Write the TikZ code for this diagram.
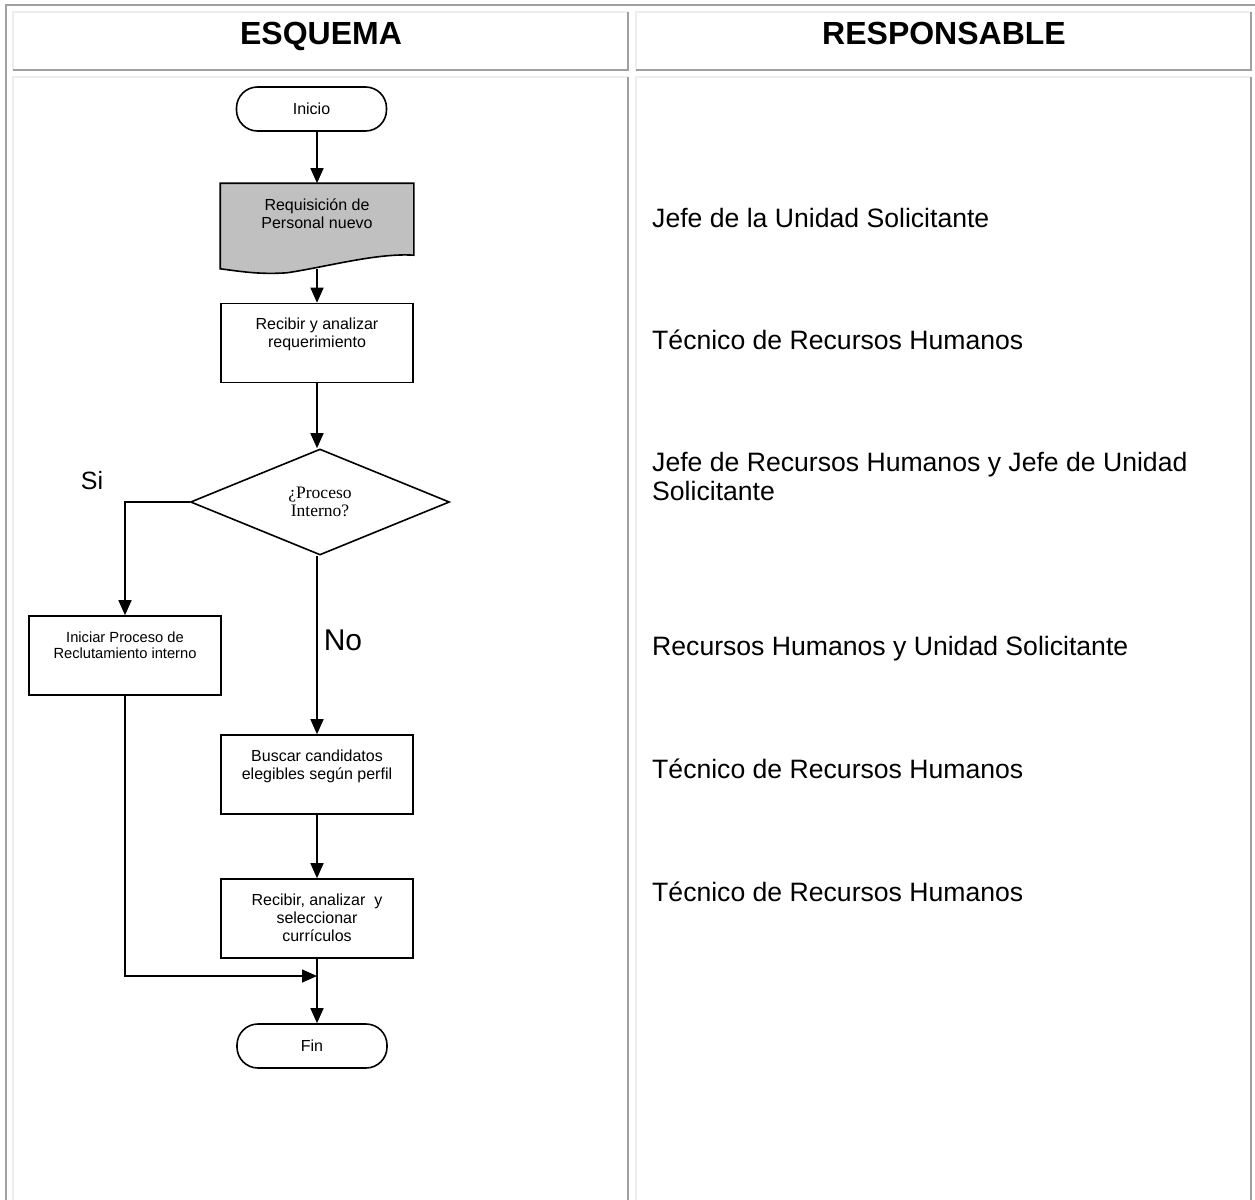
\documentclass[tikz,border=0pt]{standalone}
\usepackage{fontspec}
\setmainfont{Liberation Sans}
\newfontfamily\timesfont{Liberation Serif}
\usetikzlibrary{arrows.meta,shapes.geometric,calc}
\definecolor{rimdark}{HTML}{A0A0A0}
\definecolor{rimlight}{HTML}{EDEDED}
\definecolor{docgray}{HTML}{C0C0C0}
\begin{document}
\begin{tikzpicture}[x=1pt,y=-1pt,
  flow/.style={line width=1.6pt, draw=black},
  arr/.style={flow, -{Triangle[length=15pt,width=13pt]}},
  procbox/.style={draw=black, line width=1.6pt, rectangle, minimum width=192pt, minimum height=79pt, inner sep=0pt},
  termbox/.style={draw=black, line width=1.6pt, rectangle, rounded corners=21pt, minimum width=150pt, minimum height=44pt, inner sep=0pt, font=\fontsize{16}{18}\selectfont},
  boxtext/.style={align=center, font=\fontsize{16}{18}\selectfont, inner sep=0pt},
  resp/.style={anchor=base west, font=\fontsize{26.6}{29}\selectfont, inner sep=0pt},
  head/.style={anchor=base, font=\fontsize{32}{36}\selectfont\bfseries, inner sep=0pt},
  answer/.style={inner sep=0pt}
]
\useasboundingbox (0,0) rectangle (1255,1199);
\fill[white] (0,0) rectangle (1255,1199);

% outer table frame
\draw[rimdark, line width=2pt] (6,1205) -- (6,5) -- (1255,5);

% table cells: light top/left rim, dark bottom/right rim
\foreach \xa/\ya/\xb/\yb in {13/12/628/70, 636/12/1251/70, 13/77/628/1205, 636/77/1251/1205}{
  \draw[rimlight, line width=2pt] (\xa,\yb) -- (\xa,\ya) -- (\xb,\ya);
  \draw[rimdark, line width=2pt] (\xb,\ya) -- (\xb,\yb) -- (\xa,\yb);
}

% column headings
\node[head] (h1) at (321,44.5) {ESQUEMA};
\node[head] (h2) at (944,44.5) {RESPONSABLE};

% flowchart
\node[termbox] (inicio) at (311.5,109) {Inicio};

\node[procbox, draw=none, minimum height=84pt] (req) at (317,226) {};
\draw[flow, fill=docgray] (req.north west) -- (req.north east) -- ($(req.north east)+(0,72)$)
  .. controls ($(req.south)+(60,-16)$) and ($(req.south)+(10,-2)$) .. ($(req.south)+(-30,4)$)
  .. controls ($(req.south)+(-60,6)$) and ($(req.south)+(-80,2)$) .. (req.south west) -- cycle;
\node[boxtext] (reqtext) at (317,214) {Requisición de\\Personal nuevo};

\node[procbox] (analiza) at (317,343) {};
\node[boxtext] (analizatext) at (317,334) {Recibir y analizar\\requerimiento};

\node[diamond, draw=black, line width=1.6pt, minimum width=259pt, minimum height=106pt, inner sep=0pt,
      align=center, font=\timesfont\fontsize{17.5}{18.5}\selectfont] (decide) at (320,502) {¿Proceso\\Interno?};

\node[procbox] (interno) at (125,655.5) {};
\node[boxtext, font=\fontsize{14.7}{16}\selectfont] (internotext) at (125,645) {Iniciar Proceso de\\Reclutamiento interno};

\node[procbox] (busca) at (317,774.5) {};
\node[boxtext] (buscatext) at (317,766) {Buscar candidatos\\elegibles según perfil};

\node[procbox] (selecc) at (317,918.5) {};
\node[boxtext] (selecctext) at (317,918) {Recibir, analizar\ \ y\\seleccionar\\currículos};

\node[termbox] (fin) at (312,1046) {Fin};

\coordinate (merge) at (317,976);

\node[answer, font=\fontsize{25}{28}\selectfont] (si) at (92,481) {Si};
\node[answer, font=\fontsize{30}{34}\selectfont] (no) at (343,640) {No};

% connectors
\draw[arr] (inicio.south -| req.north) -- (req.north);
\draw[arr] (req.south) -- (analiza.north);
\draw[arr] (analiza.south) -- (analiza.south |- decide.north);
\draw[arr] (decide.west) -| (interno.north);
\draw[arr] (decide.south -| busca.north) -- (busca.north);
\draw[arr] (busca.south) -- (selecc.north);
\draw[arr] (interno.south) |- (merge);
\draw[arr] (selecc.south) -- (fin.north -| selecc.south);

% responsible parties
\node[resp] (r1) at (652,227) {Jefe de la Unidad Solicitante};
\node[resp] (r2) at (652,349) {Técnico de Recursos Humanos};
\node[resp, anchor=north west, align=left] (r3) at (652,452) {Jefe de Recursos Humanos y Jefe de Unidad\\Solicitante};
\node[resp] (r4) at (652,655) {Recursos Humanos y Unidad Solicitante};
\node[resp] (r5) at (652,778) {Técnico de Recursos Humanos};
\node[resp] (r6) at (652,901) {Técnico de Recursos Humanos};
\end{tikzpicture}
\end{document}
